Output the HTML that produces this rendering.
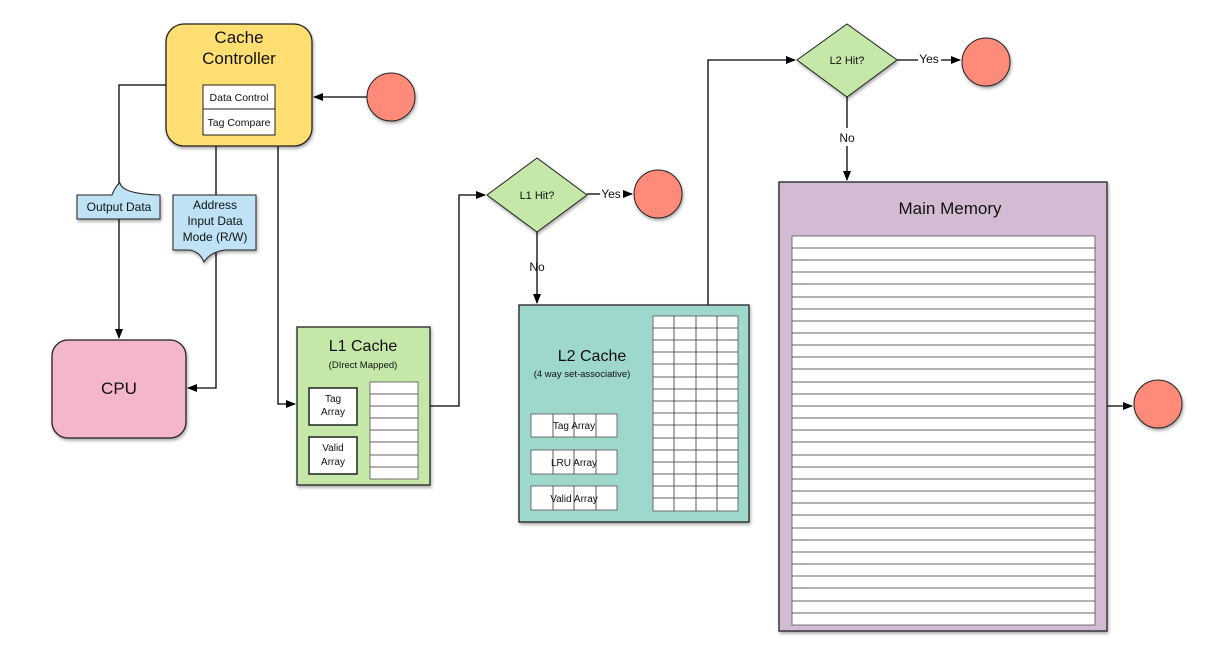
<!DOCTYPE html>
<html><head><meta charset="utf-8"><style>body{margin:0;background:#fff}svg{display:block;font-family:"Liberation Sans",sans-serif}</style></head><body>
<svg width="1218" height="648" viewBox="0 0 1218 648" xmlns="http://www.w3.org/2000/svg">
<defs>
<marker id="a" markerWidth="10" markerHeight="8" refX="9" refY="4" orient="auto" markerUnits="userSpaceOnUse"><path d="M0,0 L10,4 L0,8 z" fill="#000"/></marker>
<filter id="s" x="-10%" y="-10%" width="130%" height="130%"><feDropShadow dx="1" dy="2" stdDeviation="1.5" flood-opacity="0.35"/></filter>
</defs>
<g fill="none" stroke="#000" stroke-width="1.3">
<path d="M166,85 H119 V195"/><path d="M119,219 V338" marker-end="url(#a)"/>
<path d="M216,146 V195"/><path d="M216,250 V388 H188" marker-end="url(#a)"/>
<path d="M278,146 V404 H295" marker-end="url(#a)"/>
<path d="M367,97 H314" marker-end="url(#a)"/>
<path d="M430,406 H459 V195 H485" marker-end="url(#a)"/>
<path d="M537,232 V303" marker-end="url(#a)"/>
<path d="M587,194 H600"/><path d="M623,194 H632" marker-end="url(#a)"/>
<path d="M708,305 V60 H795" marker-end="url(#a)"/>
<path d="M897,60 H918"/><path d="M941,60 H960" marker-end="url(#a)"/>
<path d="M847,97 V128"/><path d="M847,146 V180" marker-end="url(#a)"/>
<path d="M1107,406 H1132" marker-end="url(#a)"/>
</g>
<g filter="url(#s)" stroke="#222" stroke-width="1.3">
<rect x="166" y="24" width="146" height="122" rx="18" fill="#ffdf71"/>
<rect x="52" y="340" width="134" height="98" rx="16" fill="#f4b6c9"/>
<rect x="297" y="327" width="133" height="158" fill="#c5e8a9"/>
<rect x="519" y="305" width="230" height="217" fill="#9ed7cb"/>
<rect x="779" y="182" width="328" height="449" fill="#d3bcd3"/>
<path d="M77,195 H112 Q116,185 120,183 Q122,194 160,195 V219 H77 Z" fill="#bfe3f5" stroke-width="1"/>
<path d="M173,195 H256 V250 H225 Q210,252 204,262 Q200,252 190,250 H173 Z" fill="#bfe3f5" stroke-width="1"/>
<polygon points="537,158 587,195 537,232 487,195" fill="#c5e8a9" stroke-width="1"/>
<polygon points="847,24 897,60 847,97 797,60" fill="#c5e8a9" stroke-width="1"/>
<circle cx="391" cy="97" r="24" fill="#fe8a7a" stroke-width="1"/>
<circle cx="658" cy="194" r="24" fill="#fe8a7a" stroke-width="1"/>
<circle cx="986" cy="62" r="24" fill="#fe8a7a" stroke-width="1"/>
<circle cx="1158" cy="404" r="24" fill="#fe8a7a" stroke-width="1"/>
<rect x="203" y="85" width="72" height="50" fill="#fff" stroke-width="1"/>
<rect x="309" y="388" width="48" height="37" fill="#fff" stroke-width="1.5"/>
<rect x="309" y="437" width="48" height="37" fill="#fff" stroke-width="1.5"/>
</g>
<line x1="203" y1="109" x2="275" y2="109" stroke="#222"/>
<g fill="#fff" stroke="#555" stroke-width="0.8">
<rect x="370" y="382" width="48" height="97"/>
<rect x="653" y="316" width="85" height="195"/>
<rect x="792" y="236" width="303" height="389"/>
<rect x="531" y="414" width="86" height="23"/><rect x="531" y="450" width="86" height="24"/><rect x="531" y="486" width="86" height="24"/>
</g>
<g stroke="#333" stroke-width="0.8">
<path d="M370,394H418M370,406H418M370,418H418M370,430H418M370,442H418M370,455H418M370,467H418"/>
<path d="M674,316V511M696,316V511M717,316V511M553,414V437M574,414V437M596,414V437M553,450V474M574,450V474M596,450V474M553,486V510M574,486V510M596,486V510"/>
<path d="M653,328H738M653,340H738M653,352H738M653,364H738M653,377H738M653,389H738M653,401H738M653,413H738M653,425H738M653,438H738M653,450H738M653,462H738M653,474H738M653,486H738M653,498H738"/>
<path d="M792,248H1095M792,260H1095M792,272H1095M792,284H1095M792,297H1095M792,309H1095M792,321H1095M792,333H1095M792,345H1095M792,357H1095M792,369H1095M792,382H1095M792,394H1095M792,406H1095M792,418H1095M792,430H1095M792,442H1095M792,455H1095M792,467H1095M792,479H1095M792,491H1095M792,503H1095M792,515H1095M792,528H1095M792,540H1095M792,552H1095M792,564H1095M792,576H1095M792,588H1095M792,601H1095M792,613H1095"/>
</g>
<g fill="#111" text-anchor="middle">
<text x="239" y="43" font-size="17">Cache</text><text x="239" y="64" font-size="17">Controller</text>
<text x="239" y="101" font-size="10.5">Data Control</text><text x="239" y="126" font-size="10.5">Tag Compare</text>
<text x="119" y="211" font-size="12">Output Data</text>
<text x="215" y="209" font-size="12">Address</text><text x="215" y="225" font-size="12">Input Data</text><text x="215" y="241" font-size="12">Mode (R/W)</text>
<text x="119" y="394" font-size="17">CPU</text>
<text x="363" y="351" font-size="16">L1 Cache</text><text x="363" y="368" font-size="9.5">(DIrect Mapped)</text>
<text x="333" y="402" font-size="10">Tag</text><text x="333" y="415" font-size="10">Array</text>
<text x="333" y="451" font-size="10">Valid</text><text x="333" y="465" font-size="10">Array</text>
<text x="592" y="361" font-size="16">L2 Cache</text><text x="582" y="377" font-size="9.5">(4 way set-associative)</text>
<text x="574" y="429" font-size="10">Tag Array</text><text x="574" y="466" font-size="10">LRU Array</text><text x="574" y="502" font-size="10">Valid Array</text>
<text x="950" y="214" font-size="17">Main Memory</text>
<text x="537" y="199" font-size="11">L1 Hit?</text><text x="847" y="64" font-size="11">L2 Hit?</text>
<text x="611" y="198" font-size="12">Yes</text><text x="537" y="271" font-size="12">No</text>
<text x="929" y="63" font-size="12">Yes</text><text x="847" y="142" font-size="12">No</text>
</g>
</svg>
</body></html>
